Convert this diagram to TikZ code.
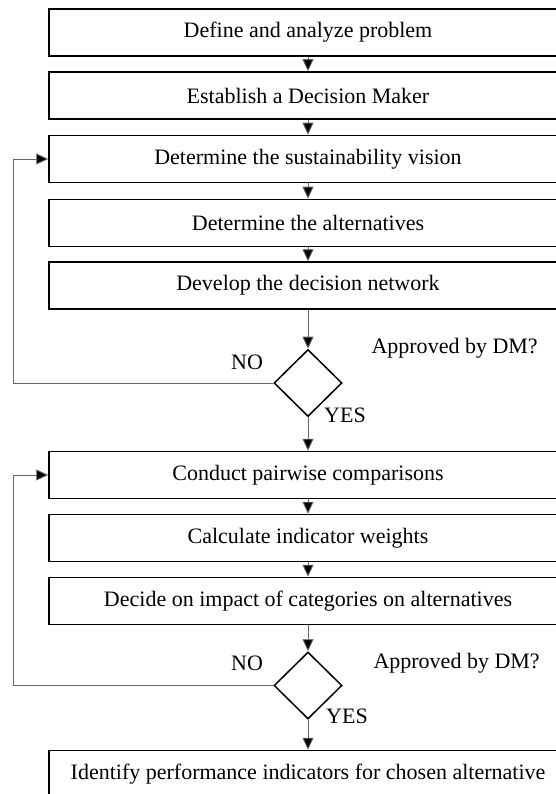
\documentclass[tikz,border=0pt]{standalone}
\usepackage{fontspec}
\setmainfont{Liberation Serif}
\usetikzlibrary{shapes.geometric,arrows.meta}
\tikzset{
  stepbox/.style={draw,line width=1.5pt,minimum width=518pt,minimum height=47pt,inner sep=0pt},
  ask/.style={draw,diamond,line width=1.5pt,minimum width=68pt,minimum height=67pt,inner sep=0pt},
  flow/.style={draw=black!60,line width=0.9pt,-{Triangle[length=12pt,width=11pt,fill=black]}}
}
\begin{document}
\begin{tikzpicture}[x=1pt,y=-1pt,font=\fontsize{22}{26}\selectfont]
\useasboundingbox (0,0) rectangle (555,794);
\foreach \n/\y/\t in {define/32.5/Define and analyze problem,
                      maker/95.5/Establish a Decision Maker,
                      vision/159/Determine the sustainability vision,
                      altern/223/Determine the alternatives,
                      network/285.5/Develop the decision network,
                      pairs/475/Conduct pairwise comparisons,
                      weights/538/Calculate indicator weights,
                      impact/601/Decide on impact of categories on alternatives,
                      perf/774/Identify performance indicators for chosen alternative}
  \node[stepbox](\n)at(308,\y){\t};
\node[ask](okA)at(308,383){};
\node[ask](okB)at(308,685.5){};
% labels at the decisions
\node[anchor=west](askA)at(368,348){Approved by DM?};
\node(noA)at(247,362){NO};
\node(yesA)at(345,415){YES};
\node[anchor=west](askB)at(370,663){Approved by DM?};
\node(noB)at(247,663){NO};
\node(yesB)at(347,716){YES};
% main flow
\foreach \a/\b in {define/maker,maker/vision,vision/altern,altern/network,network/okA,
                   okA/pairs,pairs/weights,weights/impact,impact/okB,okB/perf}
  \draw[flow](\a)--(\b);
% back loops
\coordinate(backA)at(13,383);
\coordinate(backB)at(13,685.5);
\draw[flow](okA.west)--(backA)|-(vision.west);
\draw[flow](okB.west)--(backB)|-(pairs.west);
\end{tikzpicture}
\end{document}
